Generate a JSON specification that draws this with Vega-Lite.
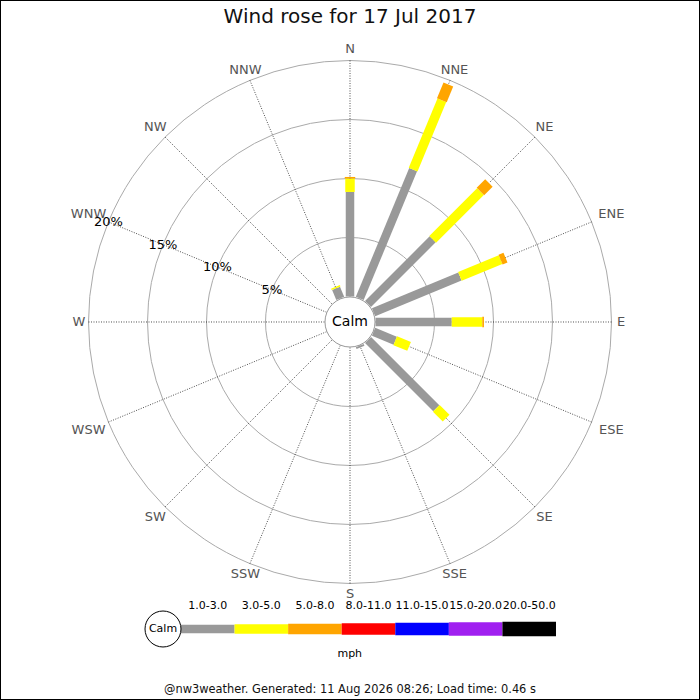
{
  "$schema": "https://vega.github.io/schema/vega-lite/v6.json",
  "description": "Wind rose for 17 Jul 2017, share of time by direction and speed band",
  "width": 700,
  "height": 700,
  "padding": 0,
  "autosize": {"type": "none"},
  "background": "white",
  "datasets": {
    "directions": [
      {"dir": "N", "deg": 0}, {"dir": "NNE", "deg": 22.5}, {"dir": "NE", "deg": 45}, {"dir": "ENE", "deg": 67.5},
      {"dir": "E", "deg": 90}, {"dir": "ESE", "deg": 112.5}, {"dir": "SE", "deg": 135}, {"dir": "SSE", "deg": 157.5},
      {"dir": "S", "deg": 180}, {"dir": "SSW", "deg": 202.5}, {"dir": "SW", "deg": 225}, {"dir": "WSW", "deg": 247.5},
      {"dir": "W", "deg": 270}, {"dir": "WNW", "deg": 292.5}, {"dir": "NW", "deg": 315}, {"dir": "NNW", "deg": 337.5}
    ],
    "rings": [
      {"pct": 5, "label": "5%"}, {"pct": 10, "label": "10%"}, {"pct": 15, "label": "15%"}, {"pct": 20, "label": "20%"}
    ],
    "bars": [
      {"dir": "N", "deg": 0, "band": "1.0-3.0", "from": 0, "to": 8.86},
      {"dir": "N", "deg": 0, "band": "3.0-5.0", "from": 8.86, "to": 10.0},
      {"dir": "N", "deg": 0, "band": "5.0-8.0", "from": 10.0, "to": 10.13},
      {"dir": "NNE", "deg": 22.5, "band": "1.0-3.0", "from": 0, "to": 11.82},
      {"dir": "NNE", "deg": 22.5, "band": "3.0-5.0", "from": 11.82, "to": 18.18},
      {"dir": "NNE", "deg": 22.5, "band": "5.0-8.0", "from": 18.18, "to": 19.62},
      {"dir": "NE", "deg": 45, "band": "1.0-3.0", "from": 0, "to": 7.75},
      {"dir": "NE", "deg": 45, "band": "3.0-5.0", "from": 7.75, "to": 13.47},
      {"dir": "NE", "deg": 45, "band": "5.0-8.0", "from": 13.47, "to": 14.49},
      {"dir": "ENE", "deg": 67.5, "band": "1.0-3.0", "from": 0, "to": 7.92},
      {"dir": "ENE", "deg": 67.5, "band": "3.0-5.0", "from": 7.92, "to": 11.65},
      {"dir": "ENE", "deg": 67.5, "band": "5.0-8.0", "from": 11.65, "to": 12.1},
      {"dir": "E", "deg": 90, "band": "1.0-3.0", "from": 0, "to": 6.46},
      {"dir": "E", "deg": 90, "band": "3.0-5.0", "from": 6.46, "to": 9.05},
      {"dir": "E", "deg": 90, "band": "5.0-8.0", "from": 9.05, "to": 9.19},
      {"dir": "ESE", "deg": 112.5, "band": "1.0-3.0", "from": 0, "to": 1.99},
      {"dir": "ESE", "deg": 112.5, "band": "3.0-5.0", "from": 1.99, "to": 3.26},
      {"dir": "SE", "deg": 135, "band": "1.0-3.0", "from": 0, "to": 8.18},
      {"dir": "SE", "deg": 135, "band": "3.0-5.0", "from": 8.18, "to": 9.36},
      {"dir": "SSE", "deg": 157.5, "band": "1.0-3.0", "from": 0, "to": 0.17},
      {"dir": "NNW", "deg": 337.5, "band": "1.0-3.0", "from": 0, "to": 0.93},
      {"dir": "NNW", "deg": 337.5, "band": "3.0-5.0", "from": 0.93, "to": 1.06}
    ],
    "bands": [
      {"band": "1.0-3.0", "i": 0}, {"band": "3.0-5.0", "i": 1}, {"band": "5.0-8.0", "i": 2},
      {"band": "8.0-11.0", "i": 3}, {"band": "11.0-15.0", "i": 4}, {"band": "15.0-20.0", "i": 5},
      {"band": "20.0-50.0", "i": 6}
    ],
    "notes": [
      {"text": "Wind rose for 17 Jul 2017", "size": "title", "y": 25.85},
      {"text": "@nw3weather. Generated: 11 Aug 2026 08:26; Load time: 0.46 s", "size": "footer", "y": -31.19}
    ]
  },
  "resolve": {"scale": {"x": "independent"}},
  "layer": [
    {
      "layer": [
        {
          "data": {"name": "rings"},
          "mark": {"type": "arc", "theta": 6.2832, "filled": false, "stroke": "#aaaaaa", "strokeWidth": 1},
          "encoding": {
            "x": {"datum": 0, "type": "quantitative", "scale": {"domain": [-29.661, 29.661]}},
            "y": {"datum": 0, "type": "quantitative", "scale": {"domain": [-32.034, 27.288]}},
            "radius": {"field": "pct", "type": "quantitative", "stack": null, "scale": {"type": "linear", "domain": [-2.161, 20], "range": [0, 261.5]}},
            "radius2": {"datum": -2.161}
          }
        },
        {
          "data": {"name": "directions"},
          "transform": [
            {"calculate": "datum.deg * PI / 180", "as": "a"},
            {"calculate": "2.161 * sin(datum.a)", "as": "x0"},
            {"calculate": "2.161 * cos(datum.a)", "as": "y0"},
            {"calculate": "22.161 * sin(datum.a)", "as": "x1"},
            {"calculate": "22.161 * cos(datum.a)", "as": "y1"}
          ],
          "mark": {"type": "rule", "color": "#222222", "strokeWidth": 0.8, "strokeDash": [1, 1.5]},
          "encoding": {
            "x": {"field": "x0", "type": "quantitative", "scale": {"domain": [-29.661, 29.661]}},
            "y": {"field": "y0", "type": "quantitative", "scale": {"domain": [-32.034, 27.288]}},
            "x2": {"field": "x1"},
            "y2": {"field": "y1"}
          }
        },
        {
          "data": {"name": "directions"},
          "transform": [
            {"calculate": "datum.deg * PI / 180", "as": "a"},
            {"calculate": "5.8 * length(datum.dir) - 0.8", "as": "hw"},
            {"calculate": "(266 + min(datum.hw / max(abs(sin(datum.a)), 0.000001), 6.5 / max(abs(cos(datum.a)), 0.000001))) / 11.8", "as": "lr"},
            {"calculate": "datum.lr * sin(datum.a)", "as": "lx"},
            {"calculate": "datum.lr * cos(datum.a)", "as": "ly"}
          ],
          "mark": {"type": "text", "font": "DejaVu Sans", "fontSize": 13, "color": "#555555", "align": "center", "baseline": "middle"},
          "encoding": {
            "x": {"field": "lx", "type": "quantitative", "scale": {"domain": [-29.661, 29.661]}},
            "y": {"field": "ly", "type": "quantitative", "scale": {"domain": [-32.034, 27.288]}},
            "text": {"field": "dir"}
          }
        },
        {
          "data": {"name": "rings"},
          "transform": [
            {"calculate": "(datum.pct + 2.161) * sin(292.5 * PI / 180)", "as": "lx"},
            {"calculate": "(datum.pct + 2.161) * cos(292.5 * PI / 180)", "as": "ly"}
          ],
          "mark": {"type": "text", "font": "DejaVu Sans", "fontSize": 13, "color": "#000000", "align": "center", "baseline": "middle"},
          "encoding": {
            "x": {"field": "lx", "type": "quantitative", "scale": {"domain": [-29.661, 29.661]}},
            "y": {"field": "ly", "type": "quantitative", "scale": {"domain": [-32.034, 27.288]}},
            "text": {"field": "label"}
          }
        },
        {
          "data": {"name": "bars"},
          "transform": [
            {"calculate": "datum.deg * PI / 180", "as": "a"},
            {"calculate": "(datum.from + 2.161) * sin(datum.a)", "as": "x0"},
            {"calculate": "(datum.from + 2.161) * cos(datum.a)", "as": "y0"},
            {"calculate": "(datum.to + 2.161) * sin(datum.a)", "as": "x1"},
            {"calculate": "(datum.to + 2.161) * cos(datum.a)", "as": "y1"}
          ],
          "mark": {"type": "rule", "strokeCap": "butt"},
          "encoding": {
            "x": {"field": "x0", "type": "quantitative", "scale": {"domain": [-29.661, 29.661]}},
            "y": {"field": "y0", "type": "quantitative", "scale": {"domain": [-32.034, 27.288]}},
            "x2": {"field": "x1"},
            "y2": {"field": "y1"},
            "color": {
              "field": "band", "type": "nominal", "legend": null,
              "scale": {
                "domain": ["1.0-3.0", "3.0-5.0", "5.0-8.0", "8.0-11.0", "11.0-15.0", "15.0-20.0", "20.0-50.0"],
                "range": ["#999999", "#ffff00", "#ffa500", "#ff0000", "#0000ff", "#a020f0", "#000000"]
              }
            },
            "strokeWidth": {
              "field": "band", "type": "nominal", "legend": null,
              "scale": {
                "domain": ["1.0-3.0", "3.0-5.0", "5.0-8.0", "8.0-11.0", "11.0-15.0", "15.0-20.0", "20.0-50.0"],
                "range": [8.5, 14.5, 20.5, 23, 25, 27, 28]
              }
            }
          }
        },
        {
          "data": {"values": [{"label": "Calm"}]},
          "mark": {"type": "arc", "theta": 6.2832, "fill": "white", "stroke": "#999999", "strokeWidth": 1},
          "encoding": {
            "x": {"datum": 0, "type": "quantitative", "scale": {"domain": [-29.661, 29.661]}},
            "y": {"datum": 0, "type": "quantitative", "scale": {"domain": [-32.034, 27.288]}},
            "radius": {"datum": -0.04, "type": "quantitative", "stack": null},
            "radius2": {"datum": -2.161}
          }
        },
        {
          "data": {"values": [{"label": "Calm"}]},
          "mark": {"type": "text", "font": "DejaVu Sans", "fontSize": 14, "color": "#000000", "align": "center", "baseline": "middle"},
          "encoding": {
            "x": {"datum": 0, "type": "quantitative", "scale": {"domain": [-29.661, 29.661]}},
            "y": {"datum": 0, "type": "quantitative", "scale": {"domain": [-32.034, 27.288]}},
            "text": {"field": "label"}
          }
        },
        {
          "data": {"name": "notes"},
          "mark": {"type": "text", "font": "DejaVu Sans", "color": "#111111", "align": "center", "baseline": "middle"},
          "encoding": {
            "x": {"datum": 0, "type": "quantitative", "scale": {"domain": [-29.661, 29.661]}},
            "y": {"field": "y", "type": "quantitative", "scale": {"domain": [-32.034, 27.288]}},
            "text": {"field": "text"},
            "size": {"field": "size", "type": "nominal", "legend": null, "scale": {"domain": ["title", "footer"], "range": [20, 11.4]}}
          }
        }
      ]
    },
    {
      "layer": [
        {
          "data": {"name": "bands"},
          "transform": [{"calculate": "datum.i + 1", "as": "i1"}],
          "mark": {"type": "rule", "strokeCap": "butt"},
          "encoding": {
            "x": {"field": "i", "type": "quantitative", "scale": {"domain": [0, 7], "range": [181, 556]}},
            "x2": {"field": "i1"},
            "y": {"datum": -26.017, "type": "quantitative", "scale": {"domain": [-32.034, 27.288]}},
            "color": {"field": "band", "type": "nominal", "legend": null},
            "strokeWidth": {"field": "band", "type": "nominal", "legend": null}
          }
        },
        {
          "data": {"name": "bands"},
          "transform": [{"calculate": "datum.i + 0.5", "as": "mid"}],
          "mark": {"type": "text", "font": "DejaVu Sans", "fontSize": 11, "color": "#000000", "align": "center", "baseline": "middle"},
          "encoding": {
            "x": {"field": "mid", "type": "quantitative", "scale": {"domain": [0, 7], "range": [181, 556]}},
            "y": {"datum": -24.11, "type": "quantitative", "scale": {"domain": [-32.034, 27.288]}},
            "text": {"field": "band"}
          }
        },
        {
          "data": {"values": [{"label": "mph"}]},
          "mark": {"type": "text", "font": "DejaVu Sans", "fontSize": 11, "color": "#000000", "align": "center", "baseline": "middle"},
          "encoding": {
            "x": {"datum": 3.15, "type": "quantitative", "scale": {"domain": [0, 7], "range": [181, 556]}},
            "y": {"datum": -28.136, "type": "quantitative", "scale": {"domain": [-32.034, 27.288]}},
            "text": {"field": "label"}
          }
        },
        {
          "data": {"values": [{"label": "Calm"}]},
          "mark": {"type": "arc", "theta": 6.2832, "fill": "white", "stroke": "#000000", "strokeWidth": 1},
          "encoding": {
            "x": {"datum": -0.336, "type": "quantitative", "scale": {"domain": [0, 7], "range": [181, 556]}},
            "y": {"datum": -26.017, "type": "quantitative", "scale": {"domain": [-32.034, 27.288]}},
            "radius": {"datum": -0.636, "type": "quantitative", "stack": null},
            "radius2": {"datum": -2.161}
          }
        },
        {
          "data": {"values": [{"label": "Calm"}]},
          "mark": {"type": "text", "font": "DejaVu Sans", "fontSize": 11, "color": "#000000", "align": "center", "baseline": "middle"},
          "encoding": {
            "x": {"datum": -0.336, "type": "quantitative", "scale": {"domain": [0, 7], "range": [181, 556]}},
            "y": {"datum": -26.017, "type": "quantitative", "scale": {"domain": [-32.034, 27.288]}},
            "text": {"field": "label"}
          }
        }
      ]
    }
  ],
  "config": {
    "view": {"stroke": "#000000", "strokeWidth": 2},
    "axis": {"disable": true},
    "legend": {"disable": true}
  }
}
